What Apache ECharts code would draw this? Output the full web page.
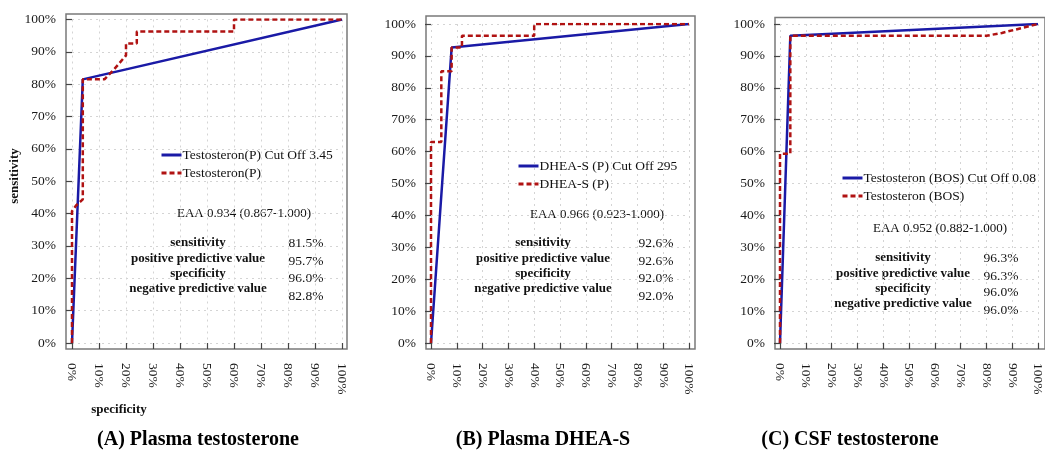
<!DOCTYPE html>
<html><head><meta charset="utf-8">
<script src="https://cdn.jsdelivr.net/npm/echarts@6/dist/echarts.min.js"></script>
<style>html,body{margin:0;padding:0;background:#fff;overflow:hidden}#c{width:1045px;height:451px}</style>
</head><body><div id="c"></div>
<script>
// ---------- DATA ----------
const panelTitles = ['(A) Plasma testosterone', '(B) Plasma DHEA-S', '(C) CSF testosterone'];
const cutoffNames = ['Testosteron(P) Cut Off 3.45', 'DHEA-S (P) Cut Off 295', 'Testosteron (BOS) Cut Off 0.08'];
const rocNames = ['Testosteron(P)', 'DHEA-S (P)', 'Testosteron (BOS)'];
// points are [1 - specificity, sensitivity]
const cutoffA = [[0, 0], [0.04, 0.815], [1, 1]];
const rocA = [[0, 0], [0, 0.407], [0.015, 0.425], [0.04, 0.444], [0.04, 0.815], [0.12, 0.815], [0.155, 0.845], [0.2, 0.889], [0.2, 0.926], [0.24, 0.926], [0.24, 0.963], [0.6, 0.963], [0.6, 1], [1, 1]];
const cutoffB = [[0, 0], [0.08, 0.926], [1, 1]];
const rocB = [[0, 0], [0, 0.63], [0.04, 0.63], [0.04, 0.852], [0.08, 0.852], [0.08, 0.926], [0.12, 0.926], [0.12, 0.963], [0.4, 0.963], [0.4, 1], [1, 1]];
const cutoffC = [[0, 0], [0.04, 0.963], [1, 1]];
const rocC = [[0, 0], [0, 0.593], [0.04, 0.593], [0.04, 0.963], [0.8, 0.963], [0.86, 0.972], [0.93, 0.986], [1, 1]];
const eaaTexts = ['EAA 0.934 (0.867-1.000)', 'EAA 0.966 (0.923-1.000)', 'EAA 0.952 (0.882-1.000)'];
const statLabels = ['sensitivity', 'positive predictive value', 'specificity', 'negative predictive value'];
const statsA = ['81.5%', '95.7%', '96.0%', '82.8%'];
const statsB = ['92.6%', '92.6%', '92.0%', '92.0%'];
const statsC = ['96.3%', '96.3%', '96.0%', '96.0%'];
const tickValues = [0, 0.1, 0.2, 0.3, 0.4, 0.5, 0.6, 0.7, 0.8, 0.9, 1];
const yAxisName = 'sensitivity';
const xAxisName = 'specificity';

// ---------- LAYOUT ----------
const cutoffs = [cutoffA, cutoffB, cutoffC];
const rocs = [rocA, rocB, rocC];
const stats = [statsA, statsB, statsC];
const plots = [
  {left: 72, top: 19.5, width: 270, height: 323.5},
  {left: 431, top: 24, width: 258, height: 319},
  {left: 780, top: 24, width: 265, height: 319}
];
const frames = [
  {left: 66, top: 14, width: 281, height: 335},
  {left: 426, top: 16, width: 269, height: 333},
  {left: 775, top: 17.5, width: 285, height: 331.5}
];
const legendPos = [{left: 155, top: 143}, {left: 512, top: 154}, {left: 836, top: 166}];
const eaaPos = [[244, 214], [597, 215], [940, 229]];
const statLabelX = [198, 543, 903];
const statLabelY = [[243, 259, 274, 289], [243, 259, 274, 289], [258, 274, 289, 304]];
const statValX = [306, 656, 1001];
const statValY = [[243, 261, 278, 296], [243, 261, 278, 296], [258, 276, 292, 310]];
const titleX = [198, 543, 850];

const FONT = 'Liberation Serif';
const BLUE = '#1a1aa6';
const RED = '#b01212';
const pct = v => Math.round(v * 100) + '%';

const grid = [], xAxis = [], yAxis = [], series = [], legend = [], graphic = [];
for (let i = 0; i < 3; i++) {
  grid.push(Object.assign({show: false}, plots[i]));
}
for (let i = 0; i < 3; i++) {
  grid.push(Object.assign({show: true, borderColor: '#7a7a7a', borderWidth: 1.5, backgroundColor: 'transparent'}, frames[i]));
}
for (let i = 0; i < 3; i++) {
  xAxis.push({
    type: 'value', gridIndex: i, min: 0, max: 1, interval: 0.1, offset: 6,
    axisLine: {show: false},
    axisTick: {show: true, length: 6, lineStyle: {color: '#444', width: 1.2}},
    axisLabel: {formatter: pct, rotate: -90, margin: 14, fontFamily: FONT, fontSize: 13.5, color: '#1a1a1a'},
    splitLine: {show: true, lineStyle: {color: '#d4d4d4', type: [2, 4], width: 1}}
  });
  yAxis.push({
    type: 'value', gridIndex: i, min: 0, max: 1, interval: 0.1, offset: i === 0 ? 6 : 5,
    axisLine: {show: false},
    axisTick: {show: true, length: 6, lineStyle: {color: '#444', width: 1.2}},
    axisLabel: {formatter: pct, margin: 10, fontFamily: FONT, fontSize: 13.5, color: '#1a1a1a'},
    splitLine: {show: true, lineStyle: {color: '#d4d4d4', type: [2, 4], width: 1}}
  });
}
for (let i = 0; i < 3; i++) {
  xAxis.push({type: 'value', gridIndex: 3 + i, show: false, min: 0, max: 1, splitLine: {show: false}});
  yAxis.push({type: 'value', gridIndex: 3 + i, show: false, min: 0, max: 1, splitLine: {show: false}});
}
for (let i = 0; i < 3; i++) {
  series.push({
    name: cutoffNames[i], type: 'line', xAxisIndex: i, yAxisIndex: i, symbol: 'none',
    data: cutoffs[i], lineStyle: {color: BLUE, width: 2.5}, itemStyle: {color: BLUE}, animation: false, z: 3
  });
  series.push({
    name: rocNames[i], type: 'line', xAxisIndex: i, yAxisIndex: i, symbol: 'none',
    data: rocs[i], lineStyle: {color: RED, width: 2.5, type: [5, 3]}, itemStyle: {color: RED}, animation: false, z: 4
  });
  legend.push(Object.assign({
    orient: 'vertical', data: [cutoffNames[i], rocNames[i]], itemWidth: 20, itemHeight: 14, itemGap: 4,
    itemStyle: {opacity: 0, color: 'rgba(0,0,0,0)', borderWidth: 0},
    lineStyle: {width: 3},
    textStyle: {fontFamily: FONT, fontSize: 13.5, color: '#111', padding: [0, 0, 0, -4]},
    selectedMode: false
  }, legendPos[i]));
  graphic.push({type: 'text', x: eaaPos[i][0], y: eaaPos[i][1],
    style: {text: eaaTexts[i], font: '13px "' + FONT + '"', fill: '#111', textAlign: 'center', textVerticalAlign: 'middle'}});
  for (let r = 0; r < 4; r++) {
    graphic.push({type: 'text', x: statLabelX[i], y: statLabelY[i][r],
      style: {text: statLabels[r], font: 'bold 13px "' + FONT + '"', fill: '#111', textAlign: 'center', textVerticalAlign: 'middle'}});
    graphic.push({type: 'text', x: statValX[i], y: statValY[i][r],
      style: {text: stats[i][r], font: '13.5px "' + FONT + '"', fill: '#111', textAlign: 'center', textVerticalAlign: 'middle'}});
  }
  graphic.push({type: 'text', x: titleX[i], y: 440,
    style: {text: panelTitles[i], font: 'bold 20px "' + FONT + '"', fill: '#000', textAlign: 'center', textVerticalAlign: 'middle'}});
}
graphic.push({type: 'text', x: 15, y: 176, rotation: Math.PI / 2,
  style: {text: yAxisName, font: 'bold 13px "' + FONT + '"', fill: '#111', textAlign: 'center', textVerticalAlign: 'middle'}});
graphic.push({type: 'text', x: 119, y: 410,
  style: {text: xAxisName, font: 'bold 13px "' + FONT + '"', fill: '#111', textAlign: 'center', textVerticalAlign: 'middle'}});

const chart = echarts.init(document.getElementById('c'), null, {renderer: 'canvas'});
chart.setOption({animation: false, backgroundColor: '#fff', grid, xAxis, yAxis, series, legend, graphic});
</script></body></html>
